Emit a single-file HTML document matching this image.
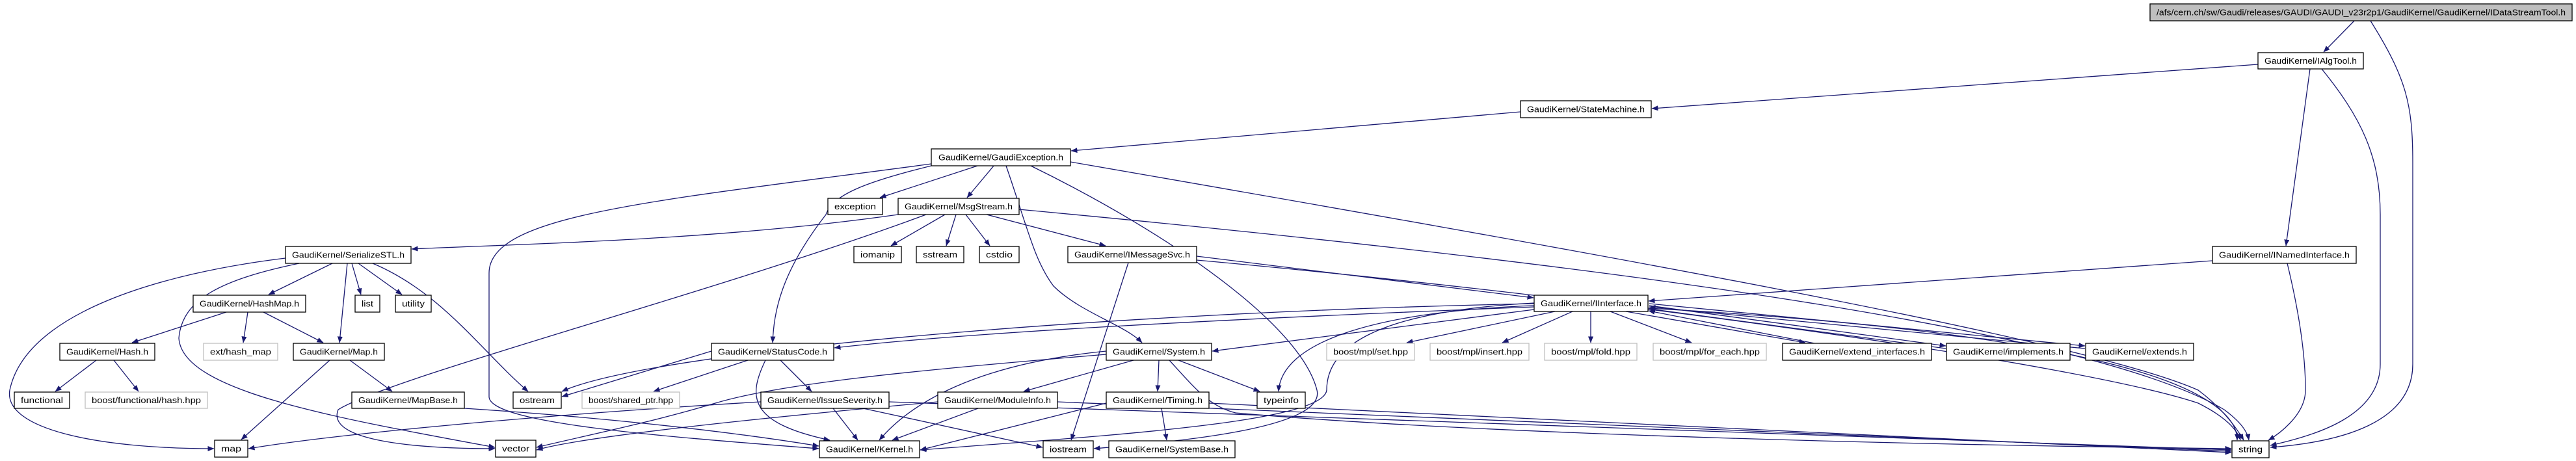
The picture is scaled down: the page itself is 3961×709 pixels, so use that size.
<!DOCTYPE html>
<html><head><meta charset="utf-8"><style>
html,body{margin:0;padding:0;background:#fff;}
svg{display:block;}
text{font-family:"Liberation Sans",sans-serif;font-size:12.5px;fill:#000;}
.e{fill:none;stroke:#191970;stroke-width:1.3;marker-end:url(#a);}
.b{fill:#fff;stroke:#000;stroke-width:1.3;}
.g{fill:#fff;stroke:#bfbfbf;stroke-width:1.3;}
</style></head><body>
<svg width="3961" height="709" viewBox="0 0 3961 709" xmlns="http://www.w3.org/2000/svg">
<defs><marker id="a" markerWidth="10" markerHeight="8" refX="9.5" refY="4" orient="auto" markerUnits="userSpaceOnUse"><path d="M0,0 L10,4 L0,8 z" fill="#191970"/></marker></defs>
<g>
<path class="e" d="M3620,32 L3573,80"/>
<path class="e" d="M3645,32 C3700,120 3710,160 3710,250 L3710,560 C3710,650 3600,680 3491,688"/>
<path class="e" d="M3472,99 L2540,167"/>
<path class="e" d="M3552,106 L3515,378"/>
<path class="e" d="M3570,106 C3630,180 3660,240 3660,330 L3660,560 C3660,640 3560,670 3491,685"/>
<path class="e" d="M2338,172 L1647,232"/>
<path class="e" d="M1503,255 L1353,304"/>
<path class="e" d="M1528,255 L1487,304"/>
<path class="e" d="M1432,255 C1330,280 1280,300 1270,330 C1200,420 1190,480 1188,527"/>
<path class="e" d="M1547,255 C1580,350 1590,400 1620,440 C1660,480 1730,500 1756,527"/>
<path class="e" d="M1585,255 C1800,360 2000,500 2025,600 C2040,660 1800,680 1682,690"/>
<path class="e" d="M1646,249 C2400,380 3200,520 3380,600 C3420,630 3440,660 3450,677"/>
<path class="e" d="M1432,252 C1000,310 752,330 752,420 L752,610 C752,650 1000,670 1259,690"/>
<path class="e" d="M1381,330 C1100,370 800,375 633,383"/>
<path class="e" d="M1453,330 L1370,378"/>
<path class="e" d="M1470,330 L1455,378"/>
<path class="e" d="M1485,330 L1522,378"/>
<path class="e" d="M1517,330 L1700,378"/>
<path class="e" d="M1567,322 C2400,400 3200,500 3420,630 C3440,645 3455,660 3458,677"/>
<path class="e" d="M1424,330 C1100,450 600,580 520,630 C500,680 650,690 761,690"/>
<path class="e" d="M1840,394 L2358,458"/>
<path class="e" d="M1840,400 C2500,460 3200,560 3380,620 C3420,640 3440,660 3445,677"/>
<path class="e" d="M1735,404 L1647,677"/>
<path class="e" d="M439,397 C250,420 40,480 15,600 C5,660 150,690 329,690"/>
<path class="e" d="M460,405 C340,430 280,460 275,520 C280,600 500,640 761,688"/>
<path class="e" d="M511,405 L413,453"/>
<path class="e" d="M534,405 L522,527"/>
<path class="e" d="M541,405 L555,453"/>
<path class="e" d="M551,405 L618,453"/>
<path class="e" d="M573,405 C680,450 740,540 812,602"/>
<path class="e" d="M348,480 L203,527"/>
<path class="e" d="M381,480 L374,527"/>
<path class="e" d="M405,480 L497,527"/>
<path class="e" d="M148,554 L85,602"/>
<path class="e" d="M175,554 L213,602"/>
<path class="e" d="M507,554 L371,676"/>
<path class="e" d="M538,554 L603,602"/>
<path class="e" d="M714,628 C900,640 1100,660 1259,686"/>
<path class="e" d="M3402,401 L2535,463"/>
<path class="e" d="M3517,405 C3540,500 3545,560 3545,600 C3545,640 3500,670 3488,677"/>
<path class="e" d="M2359,467 C1700,480 1000,540 864,602"/>
<path class="e" d="M2359,472 C1900,490 1500,510 1283,535"/>
<path class="e" d="M2359,476 L1864,540"/>
<path class="e" d="M2359,470 C2100,480 1970,530 1966,602"/>
<path class="e" d="M2391,479 L2163,527"/>
<path class="e" d="M2418,479 L2310,527"/>
<path class="e" d="M2446,479 L2446,527"/>
<path class="e" d="M2476,479 L2601,527"/>
<path class="e" d="M2500,479 L2776,527"/>
<path class="e" d="M2790,528 L2535,478"/>
<path class="e" d="M2536,470 L2992,532"/>
<path class="e" d="M2992,536 L2536,475"/>
<path class="e" d="M2536,467 L3206,532"/>
<path class="e" d="M3206,536 L2536,472"/>
<path class="e" d="M2534,474 C3000,500 3300,550 3400,620 C3430,640 3440,660 3440,677"/>
<path class="e" d="M2359,466 C2100,480 2040,540 2040,600 C2035,650 1700,670 1415,692"/>
<path class="e" d="M1094,540 L864,610"/>
<path class="e" d="M1150,554 L1005,602"/>
<path class="e" d="M1200,554 L1248,602"/>
<path class="e" d="M1177,554 C1150,610 1150,650 1276,677"/>
<path class="e" d="M1701,540 C1500,560 1400,620 1352,677"/>
<path class="e" d="M1701,545 C1400,570 1200,590 1100,620 C1000,650 900,670 825,688"/>
<path class="e" d="M1743,554 L1574,602"/>
<path class="e" d="M1782,554 L1780,602"/>
<path class="e" d="M1812,554 L1937,602"/>
<path class="e" d="M1798,554 C1840,600 1860,625 1900,635 C2300,670 3000,685 3431,690"/>
<path class="e" d="M1281,628 L1319,677"/>
<path class="e" d="M1327,628 L1603,688"/>
<path class="e" d="M1367,618 L3431,692"/>
<path class="e" d="M1170,618 C800,640 500,670 382,690"/>
<path class="e" d="M1504,628 L1372,677"/>
<path class="e" d="M1626,618 L3431,694"/>
<path class="e" d="M1442,618 C1200,640 900,670 825,692"/>
<path class="e" d="M1701,620 L1415,692"/>
<path class="e" d="M1786,628 L1794,677"/>
<path class="e" d="M1859,620 L3431,696"/>
</g>
<g>
<rect x="3306" y="6" width="649" height="26" fill="#bfbfbf" stroke="#000" stroke-width="1.3"/>
<text x="3630.5" y="23.5" text-anchor="middle" textLength="629" lengthAdjust="spacingAndGlyphs">/afs/cern.ch/sw/Gaudi/releases/GAUDI/GAUDI_v23r2p1/GaudiKernel/GaudiKernel/IDataStreamTool.h</text>
<rect class="b" x="3472" y="81" width="162" height="25"/><text x="3553" y="98" text-anchor="middle" textLength="142" lengthAdjust="spacingAndGlyphs">GaudiKernel/IAlgTool.h</text>
<rect class="b" x="2338" y="155" width="201" height="26"/><text x="2438.5" y="172.5" text-anchor="middle" textLength="181" lengthAdjust="spacingAndGlyphs">GaudiKernel/StateMachine.h</text>
<rect class="b" x="1432" y="229" width="214" height="26"/><text x="1539" y="246.5" text-anchor="middle" textLength="192" lengthAdjust="spacingAndGlyphs">GaudiKernel/GaudiException.h</text>
<rect class="b" x="1273" y="305" width="84" height="25"/><text x="1315" y="322" text-anchor="middle" textLength="64" lengthAdjust="spacingAndGlyphs">exception</text>
<rect class="b" x="1381" y="305" width="186" height="25"/><text x="1474" y="322" text-anchor="middle" textLength="166" lengthAdjust="spacingAndGlyphs">GaudiKernel/MsgStream.h</text>
<rect class="b" x="439" y="379" width="193" height="26"/><text x="535.5" y="396.5" text-anchor="middle" textLength="173" lengthAdjust="spacingAndGlyphs">GaudiKernel/SerializeSTL.h</text>
<rect class="b" x="1313" y="379" width="73" height="25"/><text x="1349.5" y="396" text-anchor="middle" textLength="53" lengthAdjust="spacingAndGlyphs">iomanip</text>
<rect class="b" x="1409" y="379" width="73" height="25"/><text x="1445.5" y="396" text-anchor="middle" textLength="53" lengthAdjust="spacingAndGlyphs">sstream</text>
<rect class="b" x="1506" y="379" width="61" height="25"/><text x="1536.5" y="396" text-anchor="middle" textLength="41" lengthAdjust="spacingAndGlyphs">cstdio</text>
<rect class="b" x="1642" y="379" width="198" height="25"/><text x="1741" y="396" text-anchor="middle" textLength="178" lengthAdjust="spacingAndGlyphs">GaudiKernel/IMessageSvc.h</text>
<rect class="b" x="3402" y="379" width="221" height="26"/><text x="3512.5" y="396.5" text-anchor="middle" textLength="201" lengthAdjust="spacingAndGlyphs">GaudiKernel/INamedInterface.h</text>
<rect class="b" x="297" y="454" width="173" height="26"/><text x="383.5" y="471.5" text-anchor="middle" textLength="153" lengthAdjust="spacingAndGlyphs">GaudiKernel/HashMap.h</text>
<rect class="b" x="546" y="454" width="38" height="26"/><text x="565" y="471.5" text-anchor="middle" textLength="18" lengthAdjust="spacingAndGlyphs">list</text>
<rect class="b" x="608" y="454" width="55" height="26"/><text x="635.5" y="471.5" text-anchor="middle" textLength="35" lengthAdjust="spacingAndGlyphs">utility</text>
<rect class="b" x="2359" y="454" width="175" height="25"/><text x="2446.5" y="471" text-anchor="middle" textLength="155" lengthAdjust="spacingAndGlyphs">GaudiKernel/IInterface.h</text>
<rect class="b" x="92" y="528" width="146" height="26"/><text x="165" y="545.5" text-anchor="middle" textLength="126" lengthAdjust="spacingAndGlyphs">GaudiKernel/Hash.h</text>
<rect class="g" x="313" y="528" width="114" height="26"/><text x="370" y="545.5" text-anchor="middle" textLength="94" lengthAdjust="spacingAndGlyphs">ext/hash_map</text>
<rect class="b" x="451" y="528" width="140" height="26"/><text x="521" y="545.5" text-anchor="middle" textLength="120" lengthAdjust="spacingAndGlyphs">GaudiKernel/Map.h</text>
<rect class="b" x="1094" y="528" width="188" height="26"/><text x="1188" y="545.5" text-anchor="middle" textLength="168" lengthAdjust="spacingAndGlyphs">GaudiKernel/StatusCode.h</text>
<rect class="b" x="1701" y="528" width="162" height="26"/><text x="1782" y="545.5" text-anchor="middle" textLength="142" lengthAdjust="spacingAndGlyphs">GaudiKernel/System.h</text>
<rect class="g" x="2040" y="528" width="135" height="26"/><text x="2107.5" y="545.5" text-anchor="middle" textLength="115" lengthAdjust="spacingAndGlyphs">boost/mpl/set.hpp</text>
<rect class="g" x="2199" y="528" width="152" height="26"/><text x="2275" y="545.5" text-anchor="middle" textLength="132" lengthAdjust="spacingAndGlyphs">boost/mpl/insert.hpp</text>
<rect class="g" x="2375" y="528" width="142" height="26"/><text x="2446" y="545.5" text-anchor="middle" textLength="122" lengthAdjust="spacingAndGlyphs">boost/mpl/fold.hpp</text>
<rect class="g" x="2542" y="528" width="174" height="26"/><text x="2629" y="545.5" text-anchor="middle" textLength="154" lengthAdjust="spacingAndGlyphs">boost/mpl/for_each.hpp</text>
<rect class="b" x="2741" y="528" width="229" height="26"/><text x="2855.5" y="545.5" text-anchor="middle" textLength="209" lengthAdjust="spacingAndGlyphs">GaudiKernel/extend_interfaces.h</text>
<rect class="b" x="2993" y="528" width="190" height="26"/><text x="3088" y="545.5" text-anchor="middle" textLength="170" lengthAdjust="spacingAndGlyphs">GaudiKernel/implements.h</text>
<rect class="b" x="3207" y="528" width="166" height="26"/><text x="3290" y="545.5" text-anchor="middle" textLength="146" lengthAdjust="spacingAndGlyphs">GaudiKernel/extends.h</text>
<rect class="b" x="22" y="603" width="85" height="25"/><text x="64.5" y="620" text-anchor="middle" textLength="65" lengthAdjust="spacingAndGlyphs">functional</text>
<rect class="g" x="131" y="603" width="188" height="25"/><text x="225" y="620" text-anchor="middle" textLength="168" lengthAdjust="spacingAndGlyphs">boost/functional/hash.hpp</text>
<rect class="b" x="541" y="603" width="173" height="25"/><text x="627.5" y="620" text-anchor="middle" textLength="153" lengthAdjust="spacingAndGlyphs">GaudiKernel/MapBase.h</text>
<rect class="b" x="789" y="603" width="74" height="25"/><text x="826" y="620" text-anchor="middle" textLength="54" lengthAdjust="spacingAndGlyphs">ostream</text>
<rect class="g" x="895" y="603" width="150" height="25"/><text x="970" y="620" text-anchor="middle" textLength="130" lengthAdjust="spacingAndGlyphs">boost/shared_ptr.hpp</text>
<rect class="b" x="1170" y="603" width="197" height="25"/><text x="1268.5" y="620" text-anchor="middle" textLength="177" lengthAdjust="spacingAndGlyphs">GaudiKernel/IssueSeverity.h</text>
<rect class="b" x="1442" y="603" width="184" height="25"/><text x="1534" y="620" text-anchor="middle" textLength="164" lengthAdjust="spacingAndGlyphs">GaudiKernel/ModuleInfo.h</text>
<rect class="b" x="1701" y="603" width="158" height="25"/><text x="1780" y="620" text-anchor="middle" textLength="138" lengthAdjust="spacingAndGlyphs">GaudiKernel/Timing.h</text>
<rect class="b" x="1933" y="603" width="74" height="25"/><text x="1970" y="620" text-anchor="middle" textLength="54" lengthAdjust="spacingAndGlyphs">typeinfo</text>
<rect class="b" x="330" y="677" width="51" height="26"/><text x="355.5" y="694.5" text-anchor="middle" textLength="31" lengthAdjust="spacingAndGlyphs">map</text>
<rect class="b" x="762" y="677" width="62" height="26"/><text x="793" y="694.5" text-anchor="middle" textLength="42" lengthAdjust="spacingAndGlyphs">vector</text>
<rect class="b" x="1260" y="678" width="154" height="26"/><text x="1337" y="695.5" text-anchor="middle" textLength="134" lengthAdjust="spacingAndGlyphs">GaudiKernel/Kernel.h</text>
<rect class="b" x="1604" y="678" width="77" height="26"/><text x="1642.5" y="695.5" text-anchor="middle" textLength="57" lengthAdjust="spacingAndGlyphs">iostream</text>
<rect class="b" x="1705" y="678" width="194" height="26"/><text x="1802" y="695.5" text-anchor="middle" textLength="174" lengthAdjust="spacingAndGlyphs">GaudiKernel/SystemBase.h</text>
<rect class="b" x="3432" y="678" width="57" height="26"/><text x="3460.5" y="695.5" text-anchor="middle" textLength="37" lengthAdjust="spacingAndGlyphs">string</text>
</g>
</svg>
</body></html>
